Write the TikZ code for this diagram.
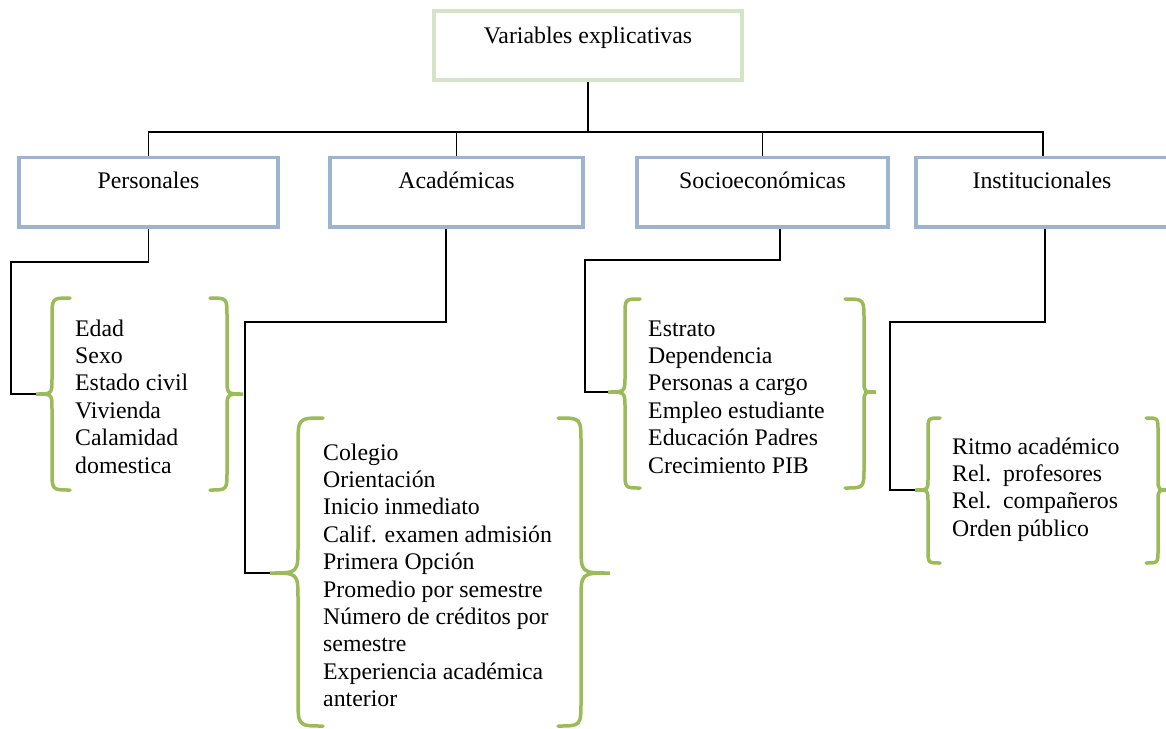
\documentclass[tikz,border=0pt]{standalone}
\usepackage{fontspec}
\setmainfont{Liberation Serif}
\definecolor{boxblue}{RGB}{157,180,209}
\definecolor{topgreen}{RGB}{214,227,199}
\definecolor{bracegreen}{RGB}{155,187,89}
\newcommand\mybrace[7]{% #1 xt, #2 xv, #3 xe, #4 yt, #5 ym, #6 yb, #7 tip name
  \pgfmathsetmacro\ha{abs(#3-#2)*1.1}
  \pgfmathsetmacro\hb{abs(#2-#1)*0.95}
  \draw[brc] (#3,#4) .. controls (#2,#4) .. (#2,{#4+\ha}) -- (#2,{#5-\hb})
    .. controls (#2,#5) .. (#1,#5) .. controls (#2,#5) .. (#2,{#5+\hb})
    -- (#2,{#6-\ha}) .. controls (#2,#6) .. (#3,#6);
  \coordinate (#7) at (#1,#5);
}
\begin{document}
\begin{tikzpicture}[x=1pt,y=-1pt,
  bluebox/.style={draw=boxblue,line width=3.5pt,minimum width=259pt,minimum height=69.5pt,inner sep=0pt},
  topbox/.style={draw=topgreen,line width=3.5pt,minimum width=308pt,minimum height=69pt,inner sep=0pt},
  conn/.style={draw=black,line width=1.5pt},
  brc/.style={draw=bracegreen,line width=3.5pt,line cap=round},
  lbl/.style={anchor=base,inner sep=0pt,font=\fontsize{23.8}{27.4}\selectfont},
  lst/.style={anchor=base west,inner sep=0pt,font=\fontsize{23.8}{27.4}\selectfont}]
\useasboundingbox (0,0) rectangle (1166,728);

% top box
\node[topbox] (top) at (588,45.5) {};
\node[lbl] (ttop) at (588,43) {Variables explicativas};

% category boxes
\node[bluebox] (pers) at (148.5,192.25) {};
\node[bluebox, minimum width=253pt] (acad) at (456.5,192.25) {};
\node[bluebox, minimum width=251pt] (soc) at (762.5,192.25) {};
\node[bluebox, minimum width=254pt] (inst) at (1043,192.25) {};
\node[lbl] (tpers) at (148.5,188) {Personales};
\node[lbl] (tacad) at (456.5,188) {Académicas};
\node[lbl] (tsoc) at (762.5,188) {Socioeconómicas};
\node[lbl] (tinst) at (1042,188) {Institucionales};

% top connectors
\coordinate (hb) at (588,132);
\draw[conn] (top.south) -- (hb);
\draw[conn] (pers.north) |- (hb) -| (inst.north);
\draw[conn] (acad.north) -- (acad.north |- hb);
\draw[conn] (soc.north) -- (soc.north |- hb);

% braces
\mybrace{36}{52}{70}{298}{394}{490}{pL}
\mybrace{243}{227}{210}{298}{394}{490}{pR}
\mybrace{270}{298}{323}{418}{573}{726}{aL}
\mybrace{610}{581}{558}{418}{573}{726}{aR}
\mybrace{608}{625}{640}{299}{392}{488}{sL}
\mybrace{876}{864}{845}{299}{392}{488}{sR}
\mybrace{915}{928}{940}{418}{490}{563}{iL}
\mybrace{1170}{1158}{1146}{418}{490}{563}{iR}

% lower connectors
\coordinate (p1) at (11,262);
\coordinate (a1) at (245,322);
\coordinate (s1) at (585,260);
\coordinate (i1) at (890,322);
\draw[conn] (pers.south) |- (p1) |- (pL);
\draw[conn] ([xshift=-10.5pt]acad.south) |- (a1) |- (aL);
\draw[conn] ([xshift=17.5pt]soc.south) |- (s1) |- (sL);
\draw[conn] ([xshift=2pt]inst.south) |- (i1) |- (iL);

% lists
\node[lst] (lpers) at (75,336) {\begin{tabular}[t]{@{}l@{}}Edad\\Sexo\\Estado civil\\Vivienda\\Calamidad\\domestica\end{tabular}};
\node[lst] (lacad) at (323,460) {\begin{tabular}[t]{@{}l@{}}Colegio\\Orientación\\Inicio inmediato\\Calif. examen admisión\\Primera Opción\\Promedio por semestre\\Número de créditos por\\semestre\\Experiencia académica\\anterior\end{tabular}};
\node[lst] (lsoc) at (648,336) {\begin{tabular}[t]{@{}l@{}}Estrato\\Dependencia\\Personas a cargo\\Empleo estudiante\\Educación Padres\\Crecimiento PIB\end{tabular}};
\node[lst] (linst) at (952,454) {\begin{tabular}[t]{@{}l@{}}Ritmo académico\\Rel.~~profesores\\Rel.~~compañeros\\Orden público\end{tabular}};
\end{tikzpicture}
\end{document}
